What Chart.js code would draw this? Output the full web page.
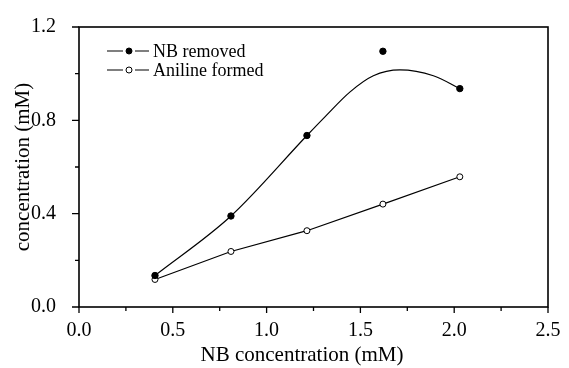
<!DOCTYPE html>
<html>
<head>
<meta charset="utf-8">
<script src="https://cdn.jsdelivr.net/npm/chart.js@4"></script>
<style>
  html, body { margin: 0; padding: 0; background: #fff; }
  #box { width: 569px; height: 368px; }
</style>
</head>
<body>
<div id="box"><canvas id="chart"></canvas></div>
<script>
// values
var nbConc = [0.405, 0.81, 1.215, 1.62, 2.03];
var nbRemoved = [0.135, 0.39, 0.735, 1.096, 0.936];
var anilineFormed = [0.118, 0.238, 0.327, 0.441, 0.558];

// fitted curve through NB removed
var fitConc = [0.405, 0.81, 1.215, 1.311, 1.445, 1.569, 1.711, 1.889, 2.03];
var fitValue = [0.135, 0.39, 0.735, 0.815, 0.922, 0.991, 1.016, 0.991, 0.936];

var seriesNames = ["NB removed", "Aniline formed"];
var xTitle = "NB concentration (mM)";
var yTitle = "concentration (mM)";

var serif = "'Liberation Serif', 'Times New Roman', serif";

function pts(xs, ys) {
    return xs.map(function (v, i) { return { x: v, y: ys[i] }; });
}

var frame = {
    id: 'frame',
    afterDraw: function (chart) {
        var ctx = chart.ctx;
        var a = chart.chartArea;
        var sx = chart.scales.x, sy = chart.scales.y;
        ctx.save();
        ctx.strokeStyle = '#000';
        ctx.lineWidth = 1.6;
        ctx.strokeRect(a.left, a.top, a.right - a.left, a.bottom - a.top);

        // outward ticks, long on labelled values
        ctx.lineWidth = 1.3;
        ctx.beginPath();
        sx.ticks.forEach(function (t) {
            var px = sx.getPixelForValue(t.value);
            var len = Math.round(t.value * 100) % 50 === 0 ? 6 : 4;
            ctx.moveTo(px, a.bottom);
            ctx.lineTo(px, a.bottom + len);
        });
        sy.ticks.forEach(function (t) {
            var py = sy.getPixelForValue(t.value);
            var len = Math.round(t.value * 10) % 4 === 0 ? 7 : 4;
            ctx.moveTo(a.left, py);
            ctx.lineTo(a.left - len, py);
        });
        ctx.stroke();

        // axis titles
        ctx.fillStyle = '#000';
        ctx.font = '21px ' + serif;
        ctx.textAlign = 'center';
        ctx.textBaseline = 'alphabetic';
        ctx.fillText(xTitle, 302, 361);
        ctx.save();
        ctx.translate(29, 167);
        ctx.rotate(-Math.PI / 2);
        ctx.fillText(yTitle, 0, 0);
        ctx.restore();

        // legend
        ctx.font = '18px ' + serif;
        ctx.textAlign = 'left';
        ctx.textBaseline = 'middle';
        var rows = [51, 70];
        rows.forEach(function (ry, i) {
            ctx.lineWidth = 1.2;
            ctx.beginPath();
            ctx.moveTo(107, ry); ctx.lineTo(123, ry);
            ctx.moveTo(135, ry); ctx.lineTo(149, ry);
            ctx.stroke();
            ctx.beginPath();
            ctx.arc(129, ry, 3, 0, Math.PI * 2);
            ctx.fillStyle = i === 0 ? '#000' : '#fff';
            ctx.fill();
            ctx.lineWidth = 1;
            ctx.stroke();
            ctx.fillStyle = '#000';
            ctx.fillText(seriesNames[i], 153, ry + 1);
        });
        ctx.restore();
    }
};

var ctx = document.getElementById('chart').getContext('2d');
var chart = new Chart(ctx, {
    type: 'scatter',
    data: {
        datasets: [{
            label: 'fit',
            data: pts(fitConc, fitValue),
            showLine: true,
            cubicInterpolationMode: 'monotone',
            borderColor: '#000',
            borderWidth: 1.2,
            pointRadius: 0
        }, {
            label: seriesNames[0],
            data: pts(nbConc, nbRemoved),
            showLine: false,
            pointRadius: 3.2,
            pointBackgroundColor: '#000',
            pointBorderColor: '#000',
            pointBorderWidth: 1
        }, {
            label: seriesNames[1],
            data: pts(nbConc, anilineFormed),
            showLine: true,
            tension: 0,
            borderColor: '#000',
            borderWidth: 1.2,
            pointRadius: 3,
            pointBackgroundColor: '#fff',
            pointBorderColor: '#000',
            pointBorderWidth: 1
        }]
    },
    options: {
        responsive: true,
        maintainAspectRatio: false,
        animation: false,
        layout: { padding: { left: 0, top: 16, right: 21, bottom: 0 } },
        plugins: {
            legend: { display: false },
            tooltip: { enabled: false }
        },
        scales: {
            x: {
                type: 'linear',
                min: 0, max: 2.5,
                grid: { display: false },
                border: { display: false },
                ticks: {
                    stepSize: 0.25,
                    autoSkip: false,
                    maxRotation: 0,
                    padding: 4,
                    color: '#000',
                    font: { family: serif, size: 20 },
                    callback: function (v) {
                        return Math.round(v * 100) % 50 === 0 ? v.toFixed(1) : '';
                    }
                },
                afterFit: function (s) { s.height = 61; }
            },
            y: {
                min: 0, max: 1.2,
                grid: { display: false },
                border: { display: false },
                ticks: {
                    stepSize: 0.2,
                    autoSkip: false,
                    padding: 15,
                    color: '#000',
                    font: { family: serif, size: 20 },
                    callback: function (v) {
                        return Math.round(v * 10) % 4 === 0 ? v.toFixed(1) : '';
                    }
                },
                afterFit: function (s) { s.width = 79; }
            }
        }
    },
    plugins: [frame]
});
</script>
</body>
</html>
